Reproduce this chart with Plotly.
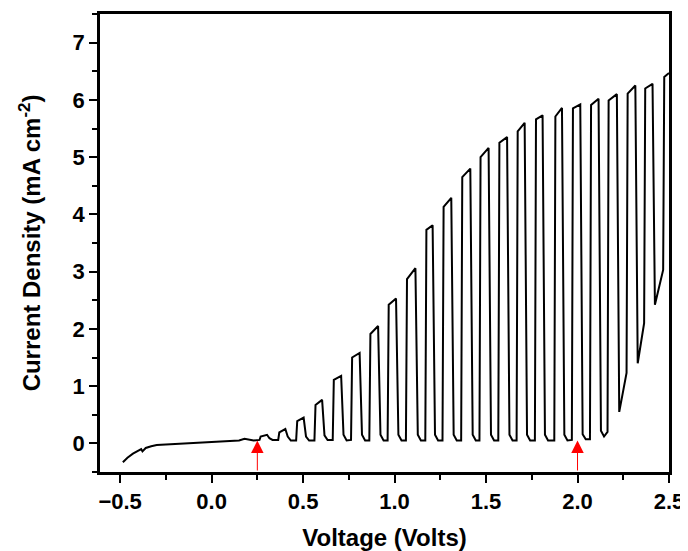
import plotly.graph_objects as go

# dark scan before chopping starts (V, mA cm^-2)
dark_v = [-0.485, -0.46, -0.43, -0.40, -0.385, -0.378, -0.36, -0.33, -0.30, -0.25,
          -0.20, -0.10, 0.0, 0.10, 0.15, 0.18, 0.20, 0.23]
dark_j = [-0.33, -0.25, -0.18, -0.12, -0.10, -0.14, -0.08, -0.05, -0.03, -0.02,
          -0.01, 0.01, 0.03, 0.04, 0.05, 0.08, 0.07, 0.05]

# chopped light pulses: light on / off voltages and currents
v_on = [0.262, 0.364, 0.462, 0.562, 0.662, 0.762, 0.862, 0.962, 1.062, 1.168, 1.262, 1.364,
        1.464, 1.567, 1.667, 1.767, 1.873, 1.969, 2.068, 2.164, 2.268, 2.364, 2.468]
v_off = [0.303, 0.403, 0.503, 0.604, 0.708, 0.809, 0.910, 1.008, 1.114, 1.208, 1.310, 1.414,
         1.514, 1.615, 1.711, 1.809, 1.915, 2.015, 2.115, 2.215, 2.316, 2.410, 2.500]
j_base = [0.06, 0.06, 0.05, 0.05, 0.06, 0.06, 0.05, 0.05, 0.05, 0.05, 0.05, 0.05,
          0.05, 0.05, 0.05, 0.05, 0.05, 0.06, 0.07, 0.20, 1.23, 2.10, 3.03]
j_top_start = [0.12, 0.19, 0.39, 0.67, 1.11, 1.50, 1.91, 2.42, 2.87, 3.73, 4.13, 4.65,
               5.00, 5.25, 5.45, 5.66, 5.71, 5.85, 5.91, 5.99, 6.11, 6.20, 6.40]
j_top_end = [0.15, 0.25, 0.45, 0.76, 1.18, 1.58, 2.05, 2.53, 3.06, 3.81, 4.29, 4.80,
             5.16, 5.35, 5.60, 5.73, 5.86, 5.92, 6.02, 6.10, 6.25, 6.28, 6.47]
j_fall = [0.09, 0.12, 0.12, 0.14, 0.15, 0.15, 0.15, 0.15, 0.15, 0.15, 0.15, 0.15,
          0.15, 0.15, 0.15, 0.15, 0.15, 0.16, 0.22, 0.55, 1.40, 2.42]
j_dark = [0.06, 0.05, 0.05, 0.06, 0.05, 0.05, 0.05, 0.05, 0.05, 0.05, 0.05, 0.05,
          0.05, 0.05, 0.05, 0.05, 0.05, 0.07, 0.12, 0.84, 1.74, 2.65]

arrow_v = [0.25, 2.0]
arrow_tip_j = 0.05

RISE, FALL, SETTLE = 0.006, 0.013, 0.03

xs, ys = list(dark_v), list(dark_j)
for k in range(len(v_on)):
    xs += [v_on[k], v_on[k] + RISE, v_off[k]]
    ys += [j_base[k], j_top_start[k], j_top_end[k]]
    if k < len(j_fall):
        xs += [v_off[k] + FALL, v_off[k] + SETTLE]
        ys += [j_fall[k], j_dark[k]]

font = dict(family="Liberation Sans, Arial, sans-serif", color="black", weight="bold")

fig = go.Figure()
fig.add_trace(go.Scatter(x=xs, y=ys, mode="lines", line=dict(color="black", width=2),
                         showlegend=False))

for v in arrow_v:
    fig.add_annotation(x=v, y=arrow_tip_j, ax=v, ay=-0.5, xref="x", yref="y", axref="x", ayref="y",
                       text="", showarrow=True, arrowhead=2, arrowsize=2.5, arrowwidth=1,
                       arrowcolor="#ff0000", standoff=0)

axis_common = dict(showline=True, linecolor="black", linewidth=2.5, mirror=True, ticks="outside",
                   ticklen=8, tickwidth=2, tickcolor="black", showgrid=False, zeroline=False,
                   automargin=False, ticklabeloverflow="allow",
                   tickfont=dict(size=22, **font), title_font=dict(size=24, **font))

fig.update_xaxes(range=[-0.61, 2.5], dtick=0.5, tick0=0, tickformat=".1f",
                 minor=dict(ticks="outside", ticklen=5, tickwidth=2, dtick=0.25, tickcolor="black"),
                 title=dict(text="Voltage (Volts)", standoff=19), **axis_common)
fig.update_yaxes(range=[-0.5, 7.5], dtick=1, tick0=0,
                 minor=dict(ticks="outside", ticklen=5, tickwidth=2, dtick=0.5, tickcolor="black"),
                 title=dict(text="Current Density (mA cm<sup>-2</sup>)", standoff=26), **axis_common)

# page body adds an 8px offset, so the figure is 8px smaller than the window
fig.update_layout(width=680, height=543, plot_bgcolor="white", paper_bgcolor="white",
                  margin=dict(l=92, r=19, t=6, b=79))

fig.write_html("out.html")
